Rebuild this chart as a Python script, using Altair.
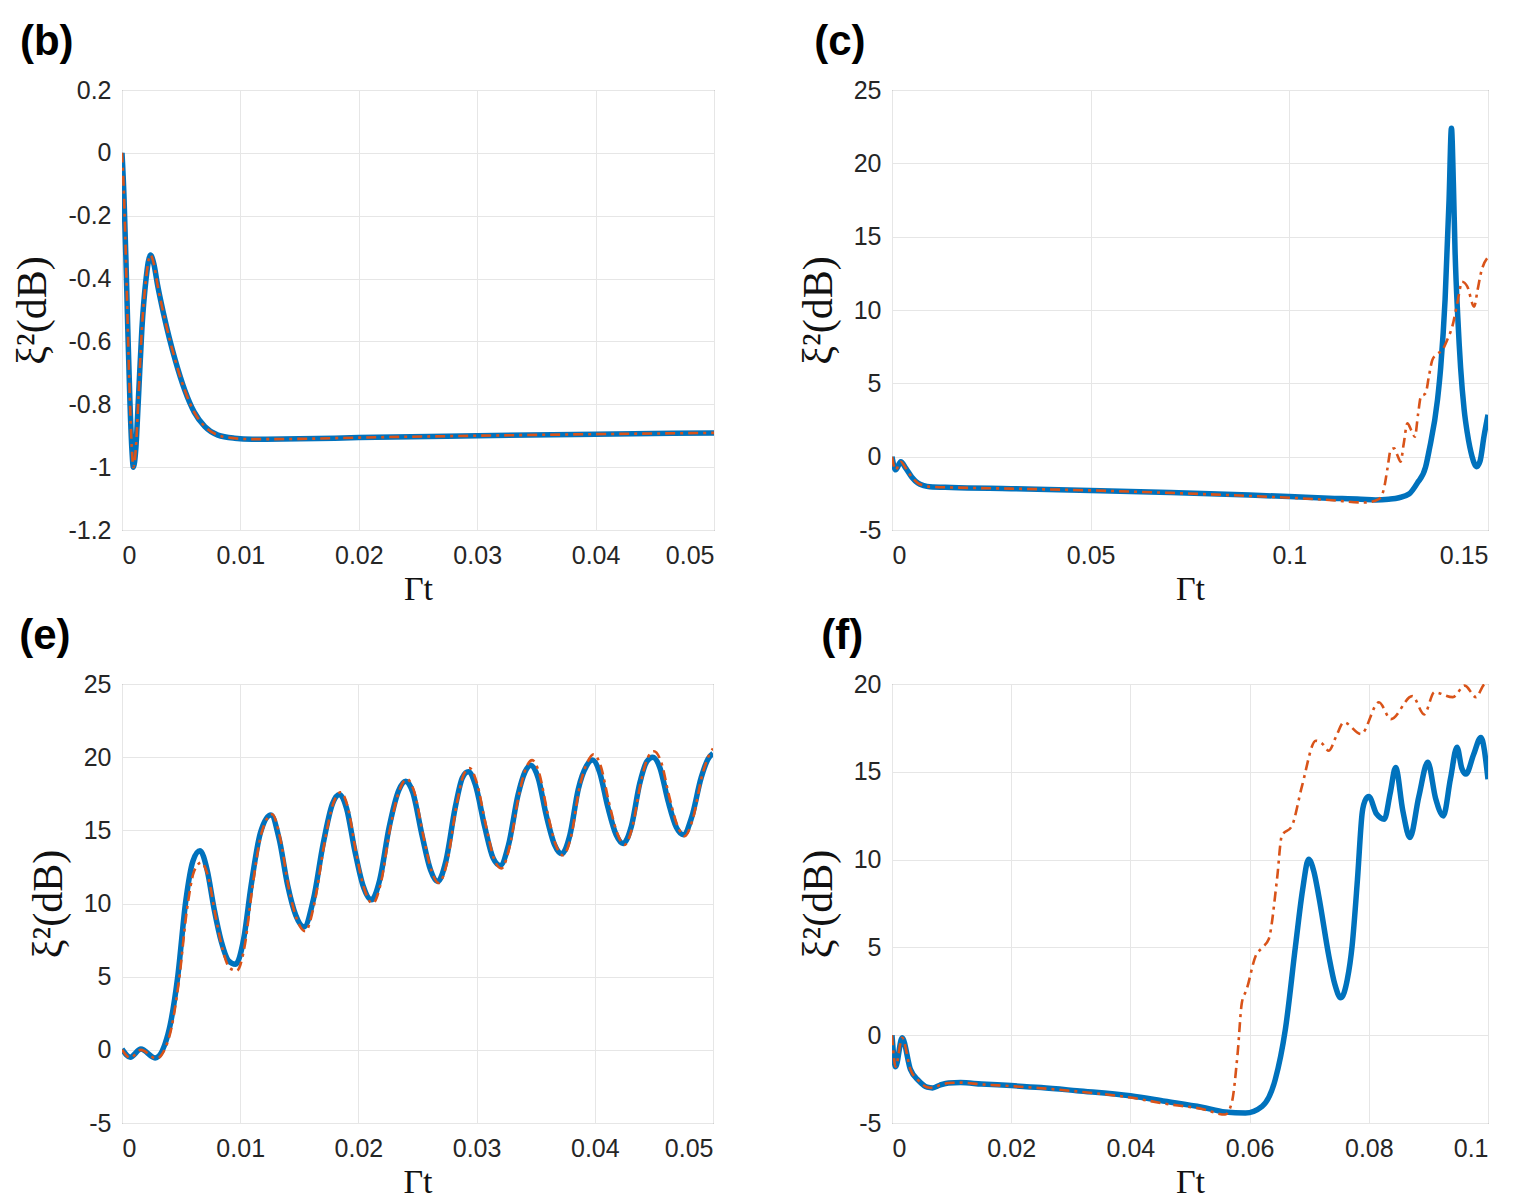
import altair as alt
import pandas as pd

# ---------------- panel (b) ----------------
t_b = [0, 0.00017, 0.00034, 0.00049, 0.00066, 0.00083, 0.00096, 0.00117, 0.00139, 0.00168,
       0.00202, 0.0024, 0.0027, 0.003, 0.0035, 0.004, 0.0045, 0.0053, 0.0061, 0.007, 0.0081,
       0.0095, 0.011, 0.015, 0.02, 0.03, 0.04, 0.05]
blue_b = [0, -0.14, -0.35, -0.56, -0.78, -0.94, -1.0, -0.94, -0.78, -0.56,
          -0.405, -0.325, -0.355, -0.42, -0.51, -0.59, -0.66, -0.755, -0.825, -0.871, -0.898,
          -0.908, -0.911, -0.91, -0.906, -0.9, -0.895, -0.891]
red_b = [0, -0.14, -0.35, -0.56, -0.78, -0.94, -1.0, -0.94, -0.78, -0.56,
         -0.405, -0.325, -0.355, -0.42, -0.51, -0.59, -0.66, -0.755, -0.825, -0.871, -0.898,
         -0.908, -0.911, -0.91, -0.906, -0.9, -0.895, -0.891]

# ---------------- panel (c) ----------------
t_c_blue = [0, 0.0009, 0.0022, 0.0035, 0.005, 0.0065, 0.008, 0.0095, 0.015, 0.03, 0.05, 0.07,
            0.09, 0.1, 0.11, 0.118, 0.1217, 0.125, 0.1276, 0.1301, 0.1322, 0.1343, 0.1352,
            0.1373, 0.1381, 0.1392, 0.1402, 0.1408, 0.1413, 0.1417, 0.1424, 0.1431, 0.144,
            0.1448, 0.146, 0.1471, 0.148, 0.149, 0.15]
blue_c = [0, -0.9, -0.35, -0.8, -1.4, -1.8, -1.97, -2.05, -2.1, -2.18, -2.3, -2.45,
          -2.62, -2.72, -2.83, -2.9, -2.95, -2.9, -2.8, -2.55, -1.8, -0.7, 0.45,
          3.9, 6.1, 10.7, 17.5, 22.4, 18.5, 14.1, 9.5, 6.1, 3.2,
          1.6, 0.0, -0.68, -0.3, 1.4, 2.85]
t_c_red = [0, 0.0009, 0.0022, 0.0035, 0.005, 0.0065, 0.008, 0.0095, 0.015, 0.03, 0.05, 0.07,
           0.09, 0.1, 0.11, 0.1192, 0.1225, 0.1238, 0.1247, 0.1255, 0.1264, 0.1272, 0.128,
           0.1288, 0.1297, 0.1307, 0.1316, 0.1324, 0.1331, 0.1343, 0.1352, 0.136, 0.1372,
           0.1385, 0.1398, 0.141, 0.1423, 0.1435, 0.1448, 0.1465, 0.1474, 0.1482, 0.15]
red_c = [0, -0.9, -0.35, -0.8, -1.4, -1.8, -1.97, -2.05, -2.1, -2.18, -2.3, -2.47,
         -2.68, -2.8, -2.95, -3.13, -2.9, -2.2, -0.8, 0.45, 0.57, 0.1, -0.34,
         0.9, 2.27, 1.8, 1.36, 2.9, 4.09, 4.32, 5.6, 6.6, 7.0,
         7.27, 8.0, 8.86, 10.5, 11.93, 11.6, 10.23, 11.4, 12.5, 13.6]

# ---------------- panel (e) ----------------
t_e_blue = [0, 0.0007, 0.0016, 0.0028, 0.0039, 0.0047, 0.0054, 0.006, 0.0066, 0.0072, 0.0078,
            0.0084, 0.009, 0.0096, 0.0103, 0.0109, 0.0117, 0.0126, 0.0133, 0.014, 0.0147,
            0.0154, 0.0162, 0.017, 0.0178, 0.0184, 0.019, 0.0197, 0.0204, 0.0211, 0.0218,
            0.0226, 0.0234, 0.024, 0.0246, 0.0254, 0.0261, 0.0267, 0.0274, 0.0282, 0.0288,
            0.0293, 0.0299, 0.0307, 0.0314, 0.032, 0.0327, 0.0335, 0.0341, 0.0346, 0.0352,
            0.0359, 0.0366, 0.0372, 0.0379, 0.0386, 0.0393, 0.0398, 0.0404, 0.0411, 0.0418,
            0.0424, 0.0431, 0.0438, 0.0444, 0.0449, 0.0455, 0.0462, 0.0469, 0.0475, 0.0482,
            0.049, 0.0496, 0.05]
blue_e = [0.05, -0.5, 0.05, -0.55, 1.1, 4.9, 10.2, 12.9, 13.6, 12.3, 9.6,
          7.4, 6.1, 5.85, 7.6, 11.1, 14.8, 16.05, 14.4, 11.3, 9.2,
          8.4, 10.3, 14.0, 16.8, 17.45, 16.5, 13.6, 11.2, 10.25, 11.6,
          15.2, 17.7, 18.35, 17.6, 14.6, 12.3, 11.5, 12.9, 16.6, 18.6,
          19.0, 18.1, 15.2, 13.1, 12.6, 14.0, 17.4, 19.0, 19.45, 18.6,
          16.0, 14.0, 13.4, 14.7, 17.8, 19.4, 19.8, 19.0, 16.6, 14.7,
          14.1, 15.3, 18.2, 19.7, 20.0, 19.3, 17.0, 15.2, 14.7, 15.9,
          18.6, 19.9, 20.25]
t_e_red = [0, 0.0007, 0.0016, 0.0029, 0.004, 0.0048, 0.0055, 0.0061, 0.0067, 0.0073, 0.0079,
           0.0085, 0.0091, 0.0097, 0.0104, 0.011, 0.0118, 0.0127, 0.0134, 0.0141, 0.0148,
           0.0155, 0.0163, 0.0171, 0.0179, 0.0185, 0.0191, 0.0198, 0.0205, 0.0212, 0.0219,
           0.0227, 0.0235, 0.0241, 0.0247, 0.0255, 0.0262, 0.0268, 0.0275, 0.0283, 0.0289,
           0.0294, 0.03, 0.0308, 0.0315, 0.0321, 0.0328, 0.0336, 0.0342, 0.0347, 0.0353,
           0.036, 0.0367, 0.0373, 0.038, 0.0387, 0.0394, 0.0399, 0.0405, 0.0412, 0.0419,
           0.0425, 0.0432, 0.0439, 0.0445, 0.045, 0.0456, 0.0463, 0.047, 0.0476, 0.0483,
           0.0491, 0.0497, 0.05]
red_e = [0.0, -0.55, 0.0, -0.6, 0.9, 4.6, 9.6, 12.2, 12.8, 11.8, 9.2,
         6.9, 5.6, 5.4, 7.2, 10.9, 14.8, 16.1, 14.4, 11.1, 8.9,
         8.1, 10.1, 14.0, 16.9, 17.6, 16.6, 13.5, 11.0, 10.0, 11.4,
         15.2, 17.8, 18.5, 17.7, 14.6, 12.2, 11.4, 12.8, 16.7, 18.8,
         19.25, 18.3, 15.3, 13.0, 12.4, 13.9, 17.5, 19.3, 19.8, 18.9,
         16.2, 14.0, 13.3, 14.6, 17.9, 19.7, 20.2, 19.4, 16.9, 14.8,
         14.0, 15.3, 18.3, 20.0, 20.4, 19.7, 17.3, 15.3, 14.6, 15.8,
         18.8, 20.2, 20.6]

# ---------------- panel (f) ----------------
t_f_blue = [0, 0.0006, 0.0017, 0.0031, 0.0045, 0.0059, 0.0068, 0.008, 0.0095, 0.0115, 0.015,
            0.02, 0.025, 0.031, 0.04, 0.0458, 0.052, 0.0559, 0.0593, 0.0621, 0.0643, 0.066,
            0.0677, 0.0689, 0.0699, 0.0708, 0.0716, 0.0733, 0.0743, 0.0753, 0.0764, 0.0772,
            0.0781, 0.0789, 0.0795, 0.08, 0.0813, 0.0826, 0.0836, 0.0845, 0.0857, 0.0869,
            0.0884, 0.0899, 0.0912, 0.0925, 0.0937, 0.0948, 0.0956, 0.0963, 0.0976, 0.0988, 0.1]
blue_f = [0, -1.8, -0.15, -1.96, -2.6, -2.96, -3.0, -2.85, -2.72, -2.7, -2.78,
          -2.87, -2.98, -3.16, -3.45, -3.76, -4.1, -4.37, -4.43, -4.05, -2.53, 0.33,
          5.08, 8.3, 10.02, 9.3, 7.93, 4.5, 2.9, 2.13, 3.18, 5.08,
          8.88, 12.69, 13.45, 13.6, 12.6, 12.3, 13.8, 15.25, 12.8, 11.26,
          13.6, 15.54, 13.5, 12.49, 14.6, 16.4, 15.2, 14.87, 16.0, 16.96, 14.58]
t_f_red = [0, 0.0006, 0.0017, 0.0031, 0.0045, 0.0059, 0.0068, 0.008, 0.0095, 0.0115, 0.015,
           0.02, 0.025, 0.031, 0.04, 0.0458, 0.052, 0.0559, 0.057, 0.058, 0.0587, 0.0595,
           0.061, 0.0621, 0.0632, 0.0646, 0.0654, 0.0671, 0.0688, 0.0711, 0.0722, 0.0733,
           0.0745, 0.0758, 0.0787, 0.0817, 0.0837, 0.0873, 0.0893, 0.091, 0.0941, 0.0961,
           0.098, 0.0995, 0.1]
red_f = [0, -1.8, -0.15, -1.96, -2.6, -2.96, -3.0, -2.85, -2.72, -2.7, -2.8,
         -2.9, -3.02, -3.2, -3.55, -3.9, -4.2, -4.52, -3.86, -1.0, 1.85, 2.6,
         4.5, 4.98, 5.46, 8.88, 11.35, 11.92, 14.2, 16.77, 16.6, 16.2,
         17.0, 17.82, 17.15, 18.96, 18.0, 19.31, 18.27, 19.53, 19.25, 19.91,
         19.25, 20.0, 20.0]

BLUE = "#0072BD"
RED = "#D95319"


def panel(letter, tb, vb, tr, vr, xdom, xticks, ydom, yticks, w, h, ldx):
    dfb = pd.DataFrame({"t": tb, "v": vb})
    dfr = pd.DataFrame({"t": tr, "v": vr})
    x = alt.X("t:Q", scale=alt.Scale(domain=xdom, nice=False, zero=False),
              axis=alt.Axis(values=xticks, title="Γt", labelExpr="'' + datum.value"))
    y = alt.Y("v:Q", scale=alt.Scale(domain=ydom, nice=False, zero=False),
              axis=alt.Axis(values=yticks, title="ξ²(dB)", labelExpr="'' + datum.value"))
    blue = alt.Chart(dfb).mark_line(color=BLUE, strokeWidth=5.5, interpolate="monotone",
                                    clip=True).encode(x=x, y=y)
    red = alt.Chart(dfr).mark_line(color=RED, strokeWidth=2.6, strokeDash=[10, 5, 3, 5],
                                   interpolate="monotone", clip=True).encode(x=x, y=y)
    return alt.layer(blue, red).properties(
        width=w, height=h,
        title=alt.TitleParams(letter, anchor="start", frame="bounds", fontSize=42,
                              fontWeight="bold", font="Liberation Sans", offset=14,
                              dx=ldx),
    )


pb = panel("(b)", t_b, blue_b, t_b, red_b, [0, 0.05], [0, 0.01, 0.02, 0.03, 0.04, 0.05],
           [-1.2, 0.2], [-1.2, -1, -0.8, -0.6, -0.4, -0.2, 0, 0.2], 592, 440, 8)
pc = panel("(c)", t_c_blue, blue_c, t_c_red, red_c, [0, 0.15], [0, 0.05, 0.1, 0.15],
           [-5, 25], [-5, 0, 5, 10, 15, 20, 25], 596, 440, 17)
pe = panel("(e)", t_e_blue, blue_e, t_e_red, red_e, [0, 0.05], [0, 0.01, 0.02, 0.03, 0.04, 0.05],
           [-5, 25], [-5, 0, 5, 10, 15, 20, 25], 591, 439, -8)
pf = panel("(f)", t_f_blue, blue_f, t_f_red, red_f, [0, 0.1], [0, 0.02, 0.04, 0.06, 0.08, 0.1],
           [-5, 20], [-5, 0, 5, 10, 15, 20], 596, 439, 24)

chart = alt.concat(pb, pc, pe, pf, columns=2, align="none",
                   spacing={"row": 7, "column": 81}).properties(
    padding={"left": 3, "top": 12, "right": 2, "bottom": 0}
).configure_view(
    stroke="#666666", strokeWidth=1
).configure_axis(
    domain=False, ticks=False, grid=True, gridColor="#e6e6e6", gridWidth=1,
    labelFont="Liberation Sans", labelFontSize=25, labelColor="#262626",
    titleFont="Liberation Serif", titleFontWeight="normal", titleColor="#111111"
).configure_axisX(
    labelPadding=13, titleFontSize=34, titlePadding=4
).configure_axisY(
    labelPadding=11, titleFontSize=42, titlePadding=13
)

chart.save("out.html", embed_options={"renderer": "svg", "actions": False})
